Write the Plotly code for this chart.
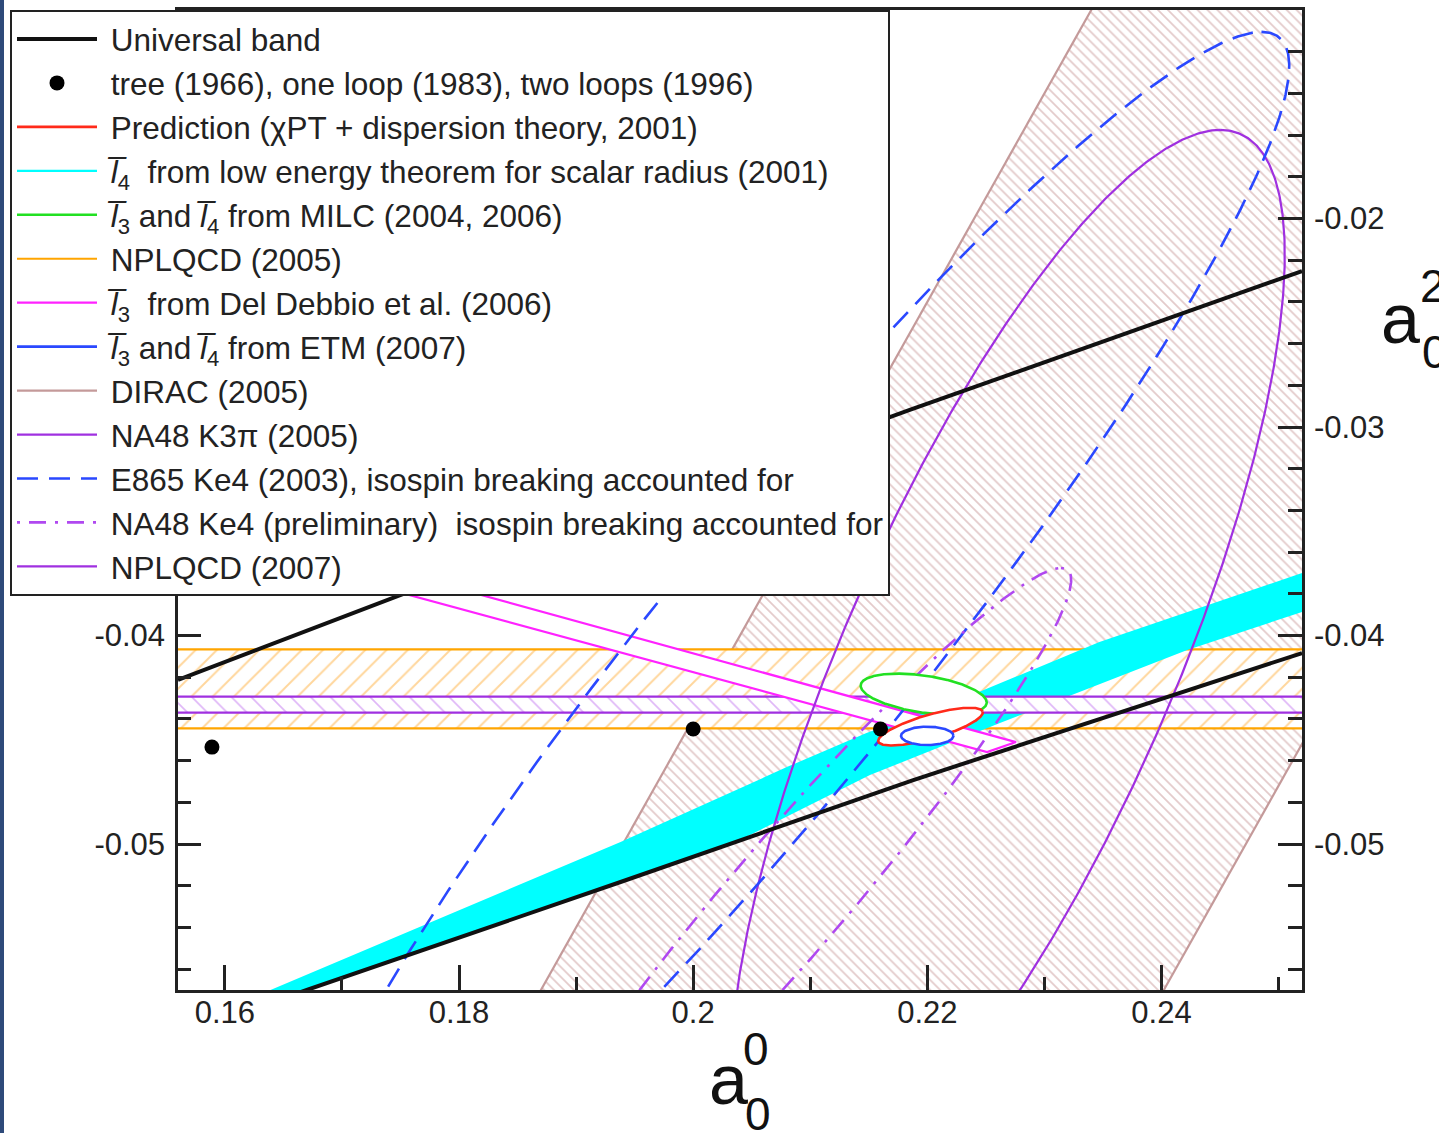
import numpy as np
import plotly.graph_objects as go

# ---------------- axes ----------------
X_RANGE = [0.156, 0.252]
Y_RANGE = [-0.057, -0.010]
x_tickvals = [0.16, 0.18, 0.20, 0.22, 0.24]
x_ticktext = ["0.16", "0.18", "0.2", "0.22", "0.24"]
y_tickvals = [-0.05, -0.04, -0.03, -0.02]
y_ticktext = ["-0.05", "-0.04", "-0.03", "-0.02"]

# ---------------- data ----------------
# Universal band (two boundary curves)
univ_upper_x = [0.1560, 0.1752, 0.2185, 0.2520]
univ_upper_y = [-0.04213, -0.03801, -0.02918, -0.02252]
univ_lower_x = [0.1600, 0.1670, 0.1938, 0.2188, 0.2520]
univ_lower_y = [-0.05833, -0.05700, -0.05182, -0.04693, -0.04084]

# tree (1966), one loop (1983), two loops (1996)
loops_x = [0.1589, 0.2000, 0.2160]
loops_y = [-0.04535, -0.04448, -0.04448]

# NPLQCD (2005) and NPLQCD (2007) bands in a0^2
nplqcd05_a2 = [-0.04445, -0.04066]
nplqcd07_a2 = [-0.04370, -0.04293]

# DIRAC (2005): band in a0^0 - a0^2
dirac_diff = [0.2440, 0.2972]

# l4 from scalar radius (cyan band)
l4_upper_x = [0.1639, 0.1938, 0.2080, 0.2148, 0.2242, 0.2347, 0.2520]
l4_upper_y = [-0.0570, -0.04990, -0.04631, -0.04468, -0.04276, -0.04031, -0.03700]
l4_lower_x = [0.1670, 0.1938, 0.2040, 0.2091, 0.2151, 0.2262, 0.2422, 0.2520]
l4_lower_y = [-0.0570, -0.05182, -0.04981, -0.04837, -0.04669, -0.04420, -0.04069, -0.03887]

# l3 from Del Debbio et al. (2006): closed band
ddb_x = [0.1560, 0.22510, 0.22757, 0.1560]
ddb_y = [-0.03504, -0.04559, -0.04511, -0.03406]

# Ellipses: centre, first and second conjugate semi-axis vectors (a0^0, a0^2)
milc_center = [0.21969, -0.04281]
milc_axis1 = [0.005381, -0.000441]
milc_axis2 = [-0.000228, -0.000878]

pred_center = [0.22027, -0.04437]
pred_axis1 = [0.004458, 0.000719]
pred_axis2 = [0.000283, -0.000553]

etm_center = [0.21999, -0.04481]
etm_axis1 = [0.002238, 0.0]
etm_axis2 = [0.0, 0.000441]

k3pi_center = [0.22686, -0.04141]
k3pi_axis1 = [0.018141, 0.025658]
k3pi_axis2 = [0.015203, 0.0]

e865_center = [0.20789, -0.04069]
e865_axis1 = [0.040646, 0.029639]
e865_axis2 = [0.014092, 0.0]

ke4_center = [0.20827, -0.05244]
ke4_axis1 = [0.023146, 0.015683]
ke4_axis2 = [0.006406, 0.0]

# ---------------- styles ----------------
BLACK = "#111111"
RED = "#FF2A1A"
CYAN = "#00FFFF"
GREEN = "#22E022"
ORANGE = "#FFA500"
MAGENTA = "#FF22FF"
BLUE = "#2A48FF"
ROSY = "#C49A9A"
PURPLE = "#A030E0"
VIOLET = "#B048F0"
FONT = "Liberation Sans, Arial, Helvetica, sans-serif"
SP = "\u00a0"  # extra gap between legend symbol and text


def ellipse(center, a1, a2, n=721):
    t = np.linspace(0.0, 2.0 * np.pi, n)
    x = center[0] + a1[0] * np.cos(t) + a2[0] * np.sin(t)
    y = center[1] + a1[1] * np.cos(t) + a2[1] * np.sin(t)
    return x, y


fig = go.Figure()
XE = [0.14, 0.27]  # horizontal extent of bands (clipped by axes)

# DIRAC band
yl, yh = -0.065, -0.0
fig.add_trace(go.Scatter(
    x=[dirac_diff[0] + yl, dirac_diff[0] + yh, dirac_diff[1] + yh, dirac_diff[1] + yl],
    y=[yl, yh, yh, yl], fill="toself", mode="lines", line=dict(width=0),
    fillcolor="white",
    fillpattern=dict(shape="\\", fgcolor="#C89595", bgcolor="white", size=7, solidity=0.25),
    showlegend=False, hoverinfo="skip"))
for i, d in enumerate(dirac_diff):
    fig.add_trace(go.Scatter(x=[d + yl, d + yh], y=[yl, yh], mode="lines",
                             line=dict(color=ROSY, width=2.2), name=SP + "DIRAC (2005)",
                             showlegend=(i == 0), legendrank=9, hoverinfo="skip"))

# NPLQCD 2005 band
fig.add_trace(go.Scatter(
    x=[XE[0], XE[1], XE[1], XE[0]],
    y=[nplqcd05_a2[0], nplqcd05_a2[0], nplqcd05_a2[1], nplqcd05_a2[1]],
    fill="toself", mode="lines", line=dict(width=0), fillcolor="white",
    fillpattern=dict(shape="/", fgcolor="#FFAE3A", bgcolor="white", size=15, solidity=0.13),
    showlegend=False, hoverinfo="skip"))
for i, v in enumerate(nplqcd05_a2):
    fig.add_trace(go.Scatter(x=XE, y=[v, v], mode="lines", line=dict(color=ORANGE, width=2.2),
                             name=SP + "NPLQCD (2005)", showlegend=(i == 0), legendrank=6,
                             hoverinfo="skip"))

# cyan l4 band
fig.add_trace(go.Scatter(
    x=list(l4_upper_x) + list(l4_lower_x[::-1]),
    y=list(l4_upper_y) + list(l4_lower_y[::-1]),
    fill="toself", mode="lines", line=dict(width=0), fillcolor=CYAN,
    showlegend=False, hoverinfo="skip"))
fig.add_trace(go.Scatter(x=[None], y=[None], mode="lines", line=dict(color=CYAN, width=2.2),
                         name=SP + "<i>l\u0305</i><sub>4</sub>  from low energy theorem for scalar radius (2001)",
                         legendrank=4))

# NPLQCD 2007 band
fig.add_trace(go.Scatter(
    x=[XE[0], XE[1], XE[1], XE[0]],
    y=[nplqcd07_a2[0], nplqcd07_a2[0], nplqcd07_a2[1], nplqcd07_a2[1]],
    fill="toself", mode="lines", line=dict(width=0), fillcolor="white",
    fillpattern=dict(shape="\\", fgcolor="#C070F0", bgcolor="white", size=14, solidity=0.12),
    showlegend=False, hoverinfo="skip"))
for i, v in enumerate(nplqcd07_a2):
    fig.add_trace(go.Scatter(x=XE, y=[v, v], mode="lines", line=dict(color=PURPLE, width=2.2),
                             name=SP + "NPLQCD (2007)", showlegend=(i == 0), legendrank=13,
                             hoverinfo="skip"))

# Del Debbio band
fig.add_trace(go.Scatter(x=ddb_x + [ddb_x[0]], y=ddb_y + [ddb_y[0]], fill="toself",
                         mode="lines", fillcolor="white", line=dict(color=MAGENTA, width=2.2),
                         showlegend=False, hoverinfo="skip"))
fig.add_trace(go.Scatter(x=[None], y=[None], mode="lines", line=dict(color=MAGENTA, width=2.2),
                         name=SP + "<i>l\u0305</i><sub>3</sub>  from Del Debbio et al. (2006)",
                         legendrank=7))

# large experimental ellipses
ex, ey = ellipse(k3pi_center, k3pi_axis1, k3pi_axis2)
fig.add_trace(go.Scatter(x=ex, y=ey, mode="lines", line=dict(color=PURPLE, width=2.2),
                         name=SP + "NA48 K3\u03c0 (2005)", legendrank=10, hoverinfo="skip"))
ex, ey = ellipse(e865_center, e865_axis1, e865_axis2)
fig.add_trace(go.Scatter(x=ex, y=ey, mode="lines",
                         line=dict(color=BLUE, width=2.6, dash="21px,11px"),
                         name=SP + "E865 Ke4 (2003), isospin breaking accounted for",
                         legendrank=11, hoverinfo="skip"))
ex, ey = ellipse(ke4_center, ke4_axis1, ke4_axis2)
fig.add_trace(go.Scatter(x=ex, y=ey, mode="lines",
                         line=dict(color=VIOLET, width=2.6, dash="3px,9px,17px,9px"),
                         name=SP + "NA48 Ke4 (preliminary) \u00a0isospin breaking accounted for",
                         legendrank=12, hoverinfo="skip"))

# Universal band lines
fig.add_trace(go.Scatter(x=univ_upper_x, y=univ_upper_y, mode="lines",
                         line=dict(color=BLACK, width=4), name=SP + "Universal band",
                         legendrank=1, hoverinfo="skip"))
fig.add_trace(go.Scatter(x=univ_lower_x, y=univ_lower_y, mode="lines",
                         line=dict(color=BLACK, width=4), showlegend=False, hoverinfo="skip"))

# small ellipses with white interior
for cen, a1, a2, col, name, rank in [
    (milc_center, milc_axis1, milc_axis2, GREEN,
     "<i>l\u0305</i><sub>3</sub> and <i>l\u0305</i><sub>4</sub> from MILC (2004, 2006)", 5),
    (pred_center, pred_axis1, pred_axis2, RED,
     "Prediction (\u03c7PT + dispersion theory, 2001)", 3),
    (etm_center, etm_axis1, etm_axis2, BLUE,
     "<i>l\u0305</i><sub>3</sub> and <i>l\u0305</i><sub>4</sub> from ETM (2007)", 8),
]:
    ex, ey = ellipse(cen, a1, a2)
    fig.add_trace(go.Scatter(x=ex, y=ey, fill="toself", fillcolor="white", mode="lines",
                             line=dict(width=0), showlegend=False, hoverinfo="skip"))
    fig.add_trace(go.Scatter(x=ex, y=ey, mode="lines", line=dict(color=col, width=2.6),
                             name=SP + name, legendrank=rank, hoverinfo="skip"))

# loop points
fig.add_trace(go.Scatter(x=loops_x, y=loops_y, mode="markers",
                         marker=dict(color="black", size=15),
                         name=SP + "tree (1966), one loop (1983), two loops (1996)", legendrank=2))

# ---------------- layout ----------------
W, H = 1439, 1133
L, R, T, B = 178, 137, 10, 143
PW, PH = W - L - R, H - T - B


def px(xp):
    return (xp - L) / PW


def py(yp):
    return (H - B - yp) / PH


axis_common = dict(showline=True, linecolor="#222222", linewidth=2.5, ticks="inside",
                   tickcolor="#222222", tickwidth=2.5, showgrid=False, zeroline=False,
                   tickfont=dict(family=FONT, size=31, color="#222222"))

fig.update_layout(
    width=W, height=H, margin=dict(l=L, r=R, t=T, b=B, autoexpand=False),
    paper_bgcolor="white", plot_bgcolor="white",
    xaxis=dict(range=X_RANGE, tickmode="array", tickvals=x_tickvals, ticktext=x_ticktext,
               ticklen=25, mirror=True, ticklabelstandoff=-7,
               minor=dict(ticks="inside", ticklen=13, tickmode="linear", tick0=0.16, dtick=0.01,
                          tickcolor="#222222", tickwidth=2.5),
               **axis_common),
    yaxis=dict(range=Y_RANGE, tickmode="array", tickvals=y_tickvals, ticktext=y_ticktext,
               ticklen=23, ticklabelstandoff=4,
               minor=dict(ticks="inside", ticklen=13, tickmode="linear", tick0=-0.05, dtick=0.002,
                          tickcolor="#222222", tickwidth=2.5),
               **axis_common),
    yaxis2=dict(range=Y_RANGE, overlaying="y", side="right", anchor="x",
                tickmode="array", tickvals=y_tickvals, ticktext=y_ticktext,
                ticklen=24, ticklabelstandoff=3,
                minor=dict(ticks="inside", ticklen=14, tickmode="linear", tick0=-0.05, dtick=0.002,
                           tickcolor="#222222", tickwidth=2.5),
                **axis_common),
    legend=dict(x=px(10), y=1.0, xanchor="left", yanchor="top",
                bgcolor="white", bordercolor="#222222", borderwidth=2,
                font=dict(family=FONT, size=31.5, color="#222222"),
                itemwidth=80, tracegroupgap=0, traceorder="normal"),
    showlegend=True,
)
# dummy trace to activate right axis
fig.add_trace(go.Scatter(x=[None], y=[None], yaxis="y2", showlegend=False, hoverinfo="skip"))

ann_font_big = dict(family=FONT, size=70, color="#111111")
ann_font_small = dict(family=FONT, size=46, color="#111111")
annotations = [
    dict(text="a", x=px(728), y=py(1080), font=ann_font_big),
    dict(text="0", x=px(756), y=py(1049), font=ann_font_small),
    dict(text="0", x=px(758), y=py(1114), font=ann_font_small),
    dict(text="a", x=px(1400), y=py(319), font=ann_font_big),
    dict(text="2", x=px(1433), y=py(286), font=ann_font_small),
    dict(text="0", x=px(1435), y=py(352), font=ann_font_small),
]
for a in annotations:
    a.update(xref="paper", yref="paper", showarrow=False, xanchor="center", yanchor="middle")
fig.update_layout(annotations=annotations)

# slide edge strip on the far left
fig.add_shape(type="rect", xref="paper", yref="paper", x0=px(0), x1=px(4), y0=py(H), y1=py(0),
              fillcolor="#2E4A7A", line=dict(width=0), layer="above")

fig.write_html("out.html", config={"displayModeBar": False},
               post_script="document.body.style.margin='0px';document.body.style.padding='0px';")
